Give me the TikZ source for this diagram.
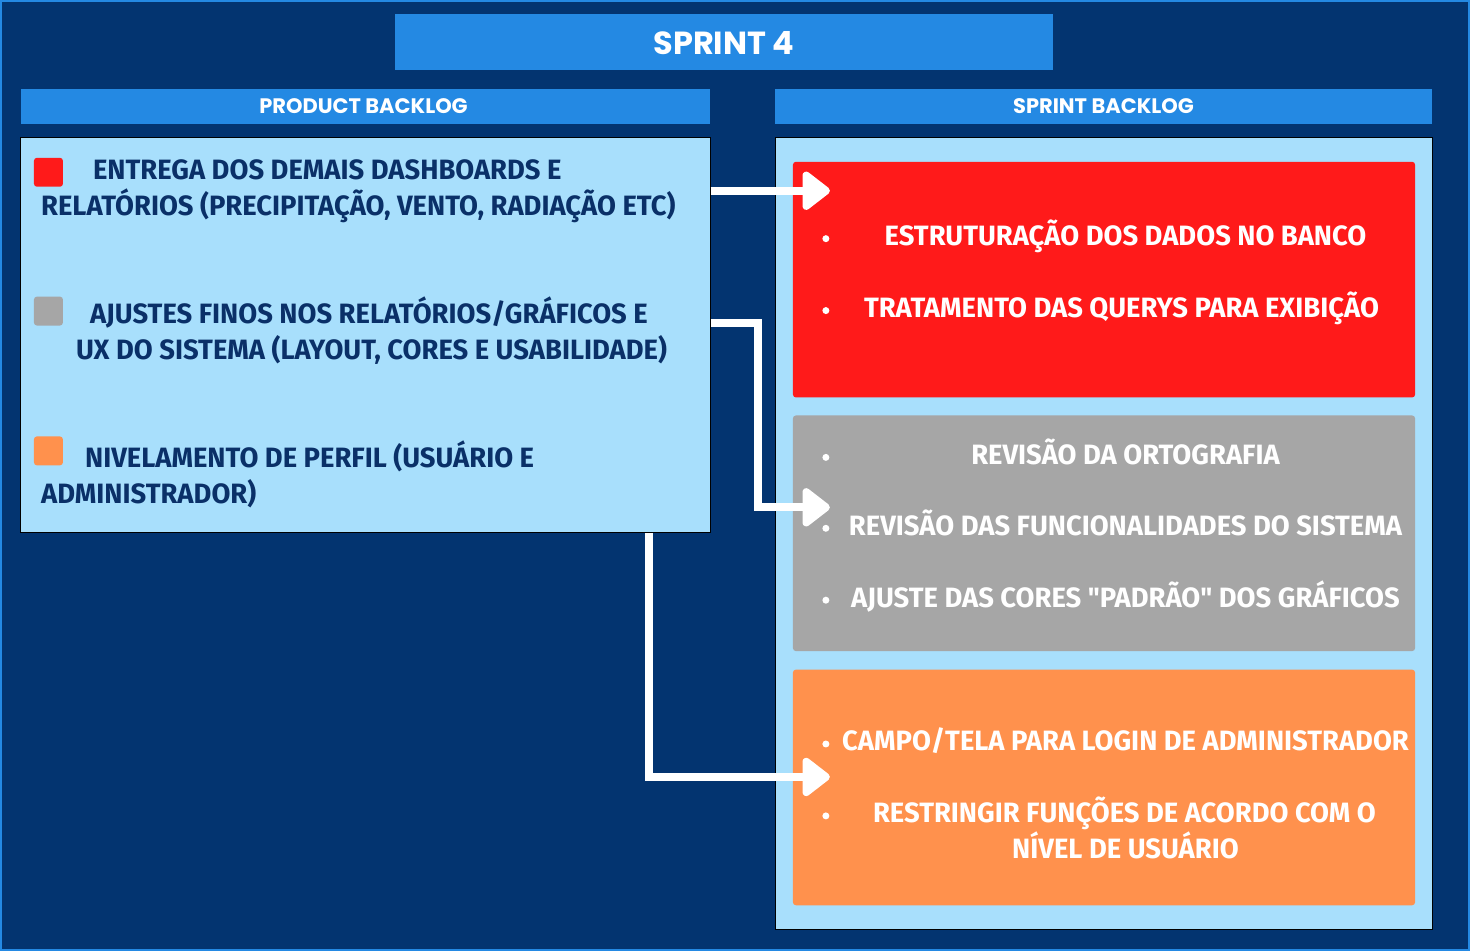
\documentclass[tikz,border=0pt]{standalone}
\usepackage{fontspec}
\setmainfont{Poppins}
\newfontfamily\itemfont{Fira Sans}[FakeStretch=0.98]
\usetikzlibrary{arrows.meta}
\definecolor{spNavy}{HTML}{033470}
\definecolor{spBlue}{HTML}{2489E3}
\definecolor{spSky}{HTML}{A8DFFC}
\definecolor{spInk}{HTML}{0A3068}
\definecolor{spRed}{HTML}{FF1A1A}
\definecolor{spGray}{HTML}{A6A6A6}
\definecolor{spOrange}{HTML}{FF914D}

\begin{document}
\begin{tikzpicture}[x=1pt,y=-1pt,
  bar/.style={fill=spBlue,inner sep=0pt,minimum height=#1},
  panel/.style={fill=spSky,draw=black,line width=1pt,inner sep=0pt},
  card/.style={fill=#1,rounded corners=3pt,inner sep=0pt,minimum width=623pt,minimum height=236pt},
  chip/.style={fill=#1,rounded corners=3pt,inner sep=0pt,minimum size=29pt},
  head/.style={text=white,font=\bfseries\fontsize{21}{21}\selectfont,anchor=base},
  lefttxt/.style={text=spInk,font=\itemfont\bfseries\fontsize{28}{28}\selectfont,anchor=base west,inner sep=0pt},
  righttxt/.style={text=white,font=\itemfont\bfseries\fontsize{28}{28}\selectfont,anchor=base,inner sep=0pt},
  dot/.style={circle,fill=white,inner sep=0pt,minimum size=7pt},
  conn/.style={white,line width=8pt,-{Triangle[width=44pt,length=30pt,round]}}]
\fill[spNavy,draw=spBlue,line width=2pt] (0,0) rectangle (1470,950);
\useasboundingbox (0,0) rectangle (1470,950);
% headers
\node[bar=56pt,minimum width=658pt] (title) at (724,41) {};
\node[head,font=\bfseries\fontsize{32}{32}\selectfont] at (724,54) {SPRINT 4};
\node[bar=35pt,minimum width=690pt] (pbhead) at (365,105.5) {};
\node[head] at (363,113) {PRODUCT BACKLOG};
\node[bar=35pt,minimum width=658pt] (sbhead) at (1104,105.5) {};
\node[head] at (1104,113) {SPRINT BACKLOG};
% panels
\node[panel,minimum width=690pt,minimum height=395pt] (pb) at (365,334.5) {};
\node[panel,minimum width=657pt,minimum height=793pt] (sb) at (1104.5,533.5) {};
% product backlog items
\node[chip=spRed] (c1) at (47.5,171.5) {};
\node[lefttxt] at (92,179) {ENTREGA DOS DEMAIS DASHBOARDS E};
\node[lefttxt] at (40,215) {RELATÓRIOS (PRECIPITAÇÃO, VENTO, RADIAÇÃO ETC)};
\node[chip=spGray] (c2) at (47.5,310.5) {};
\node[lefttxt] at (89,323) {AJUSTES FINOS NOS RELATÓRIOS/GRÁFICOS E};
\node[lefttxt] at (75,359) {UX DO SISTEMA (LAYOUT, CORES E USABILIDADE)};
\node[chip=spOrange] (c3) at (47.5,450.5) {};
\node[lefttxt] at (84,467) {NIVELAMENTO DE PERFIL (USUÁRIO E};
\node[lefttxt] at (40,503) {ADMINISTRADOR)};
% sprint backlog cards
\node[card=spRed] (k1) at (1104.5,279) {};
\node[card=spGray] (k2) at (1104.5,533) {};
\node[card=spOrange] (k3) at (1104.5,787.5) {};
\node[dot] at (826,238) {};
\node[righttxt] at (1126,245) {ESTRUTURAÇÃO DOS DADOS NO BANCO};
\node[dot] at (826,310) {};
\node[righttxt] at (1122,317) {TRATAMENTO DAS QUERYS PARA EXIBIÇÃO};
\node[dot] at (826,457) {};
\node[righttxt] at (1126,464) {REVISÃO DA ORTOGRAFIA};
\node[dot] at (826,528) {};
\node[righttxt] at (1126,535) {REVISÃO DAS FUNCIONALIDADES DO SISTEMA};
\node[dot] at (826,600) {};
\node[righttxt] at (1126,607) {AJUSTE DAS CORES "PADRÃO" DOS GRÁFICOS};
\node[dot] at (826,744) {};
\node[righttxt] at (1126,751) {CAMPO/TELA PARA LOGIN DE ADMINISTRADOR};
\node[dot] at (826,816) {};
\node[righttxt] at (1125,823) {RESTRINGIR FUNÇÕES DE ACORDO COM O};
\node[righttxt] at (1126,859) {NÍVEL DE USUÁRIO};
% connectors
\coordinate (t1) at (830,190);
\coordinate (t2) at (830,507);
\coordinate (t3) at (830,777);
\coordinate (s2) at (pb.east |- 0,322);
\coordinate (s3) at (649,0 |- pb.south);
\draw[conn] (pb.east |- t1) -- (t1);
\draw[conn] (s2) -- (758,322) |- (t2);
\draw[conn] (s3) |- (t3);
\end{tikzpicture}
\end{document}
